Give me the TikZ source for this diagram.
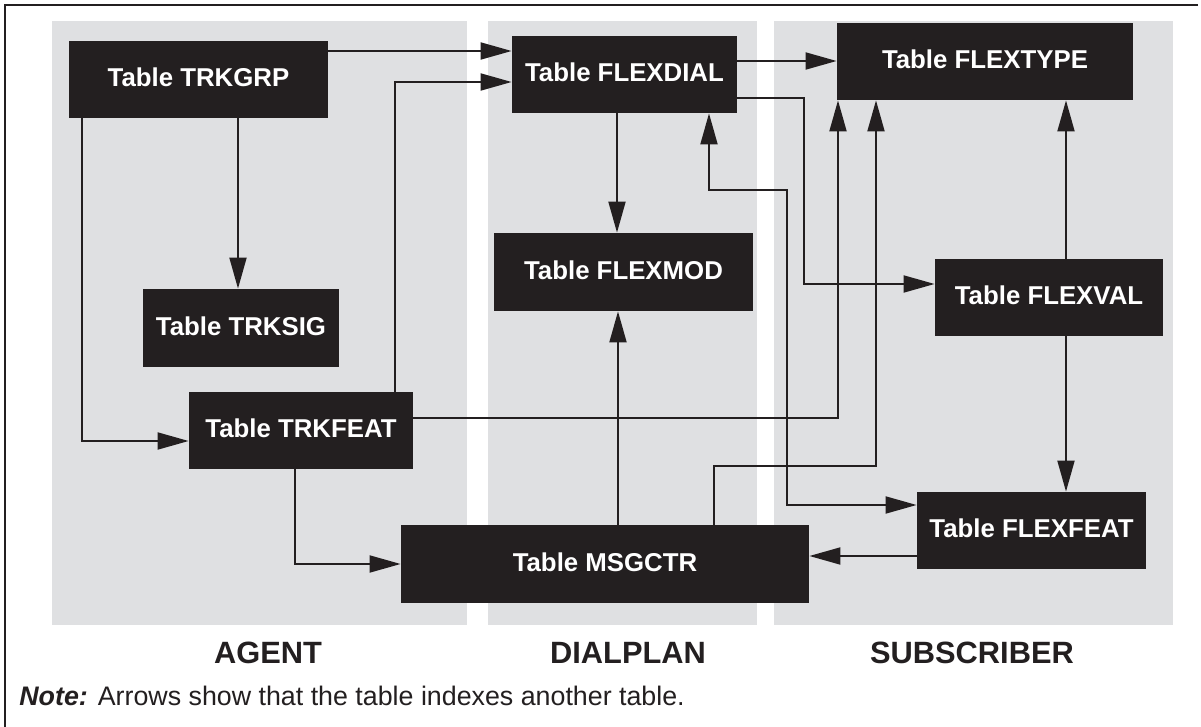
\documentclass[tikz,border=0pt]{standalone}
\usepackage{fontspec}
\setmainfont{Liberation Sans}
\usetikzlibrary{arrows.meta}
\definecolor{boxfill}{HTML}{231F20}
\definecolor{panel}{HTML}{DFE0E2}
\begin{document}
\begin{tikzpicture}[x=0.5pt,y=-0.5pt,
  tbl/.style={draw=none, fill=boxfill, text=white, font=\fontsize{12.9}{15}\selectfont\bfseries,
    inner sep=0pt, text height=9.2pt, text depth=2pt},
  arr/.style={draw=boxfill, line width=0.95pt, -{Triangle[length=15.5pt,width=8.5pt]}},
  arrboth/.style={draw=boxfill, line width=0.95pt, {Triangle[length=15.5pt,width=8.5pt]}-{Triangle[length=15.5pt,width=8.5pt]}},
  grp/.style={font=\fontsize{15.4}{18}\selectfont\bfseries, text=boxfill, inner sep=0pt},
]
\useasboundingbox (0,0) rectangle (1201,727);
\fill[white] (0,0) rectangle (1201,727);
% frame (top and left rules)
\draw[line width=0.6pt, draw=boxfill] (1198,5) -- (5,5) -- (5,727);
% group panels
\fill[panel] (52,21) rectangle (467,625);
\fill[panel] (488,21) rectangle (757,625);
\fill[panel] (774,21) rectangle (1173,625);
% tables
\node[tbl, minimum width=129.5pt, minimum height=38.5pt] (trkgrp)   at (198.5,79.5) {Table TRKGRP};
\node[tbl, minimum width=98pt,    minimum height=39pt]   (trksig)   at (241,328) {Table TRKSIG};
\node[tbl, minimum width=112pt,   minimum height=38.5pt] (trkfeat)  at (301,430.5) {Table TRKFEAT};
\node[tbl, minimum width=112.5pt, minimum height=38.5pt] (flexdial) at (624.5,74.5) {Table FLEXDIAL};
\node[tbl, minimum width=129.5pt, minimum height=39pt]   (flexmod)  at (623.5,272) {Table FLEXMOD};
\node[tbl, minimum width=148pt,   minimum height=38.5pt] (flextype) at (985,61.5) {Table FLEXTYPE};
\node[tbl, minimum width=114pt,   minimum height=38.5pt] (flexval)  at (1049,297.5) {Table FLEXVAL};
\node[tbl, minimum width=114.5pt, minimum height=38.5pt] (flexfeat) at (1031.5,530.5) {Table FLEXFEAT};
\node[tbl, minimum width=204pt,   minimum height=39pt]   (msgctr)   at (605,564) {Table MSGCTR};
% group labels
\node[grp] (agent) at (268,653) {AGENT};
\node[grp] (dialplan) at (628,653) {DIALPLAN};
\node[grp] (subscriber) at (972,653) {SUBSCRIBER};
% note
\node[anchor=base west, inner sep=0pt, font=\fontsize{13.4}{16}\selectfont, text=boxfill] (note) at (19,705)
  {\textbf{\textit{Note:}} Arrows show that the table indexes another table.};
% index relations
\draw[arr] (trkgrp.east |- 0,51) -- (flexdial.west |- 0,51);
\draw[arr] (trkfeat.north -| 395,0) |- (flexdial.west |- 0,82);
\draw[arr] (trkgrp.south -| 238,0) -- (trksig.north -| 238,0);
\draw[arr] (trkgrp.south -| 82,0) |- (trkfeat.west |- 0,441);
\draw[arr] (trkfeat.south -| 295,0) |- (msgctr.west |- 0,564);
\draw[arr] (flexdial.east |- 0,61) -- (flextype.west |- 0,61);
\draw[arr] (flexdial.south -| 617,0) -- (flexmod.north -| 617,0);
\draw[arr] (flexdial.east |- 0,98) -| (804,284) -- (flexval.west |- 0,284);
\draw[arrboth] (flexdial.south -| 709,0) |- (787,190) |- (flexfeat.west |- 0,505);
\draw[arr] (trkfeat.east |- 0,418) -| (flextype.south -| 838,0);
\draw[arr] (msgctr.north -| 714,0) |- (876,466) -- (flextype.south -| 876,0);
\draw[arr] (msgctr.north -| 618,0) -- (flexmod.south -| 618,0);
\draw[arr] (flexval.north -| 1066,0) -- (flextype.south -| 1066,0);
\draw[arr] (flexval.south -| 1066,0) -- (flexfeat.north -| 1066,0);
\draw[arr] (flexfeat.west |- 0,556) -- (msgctr.east |- 0,556);
\end{tikzpicture}
\end{document}
